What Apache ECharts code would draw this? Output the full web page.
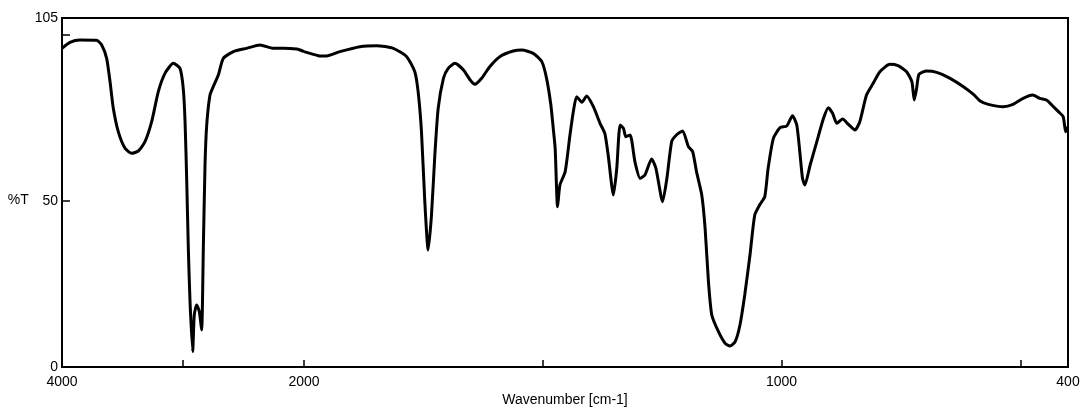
<!DOCTYPE html>
<html>
<head>
<meta charset="utf-8">
<script src="https://cdn.jsdelivr.net/npm/echarts@6/dist/echarts.min.js"></script>
<style>
html,body{margin:0;padding:0;background:#fff;}
#chart{width:1083px;height:412px;}
</style>
</head>
<body>
<div id="chart"></div>
<script>
// Wavenumber (cm-1) and transmittance (%T)
var wavenumber = [4000,3934,3851,3713,3672,3631,3603,3576,3535,3479,3424,3369,3314,3259,3204,3149,3080,3025,2998,2983,2969,2956,2942,2920,2907,2887,2865,2846,2832,2818,2804,2777,2750,2708,2667,2584,2474,2364,2254,2171,2060,2033,2000,
1970,1953,1925,1883,1848,1813,1785,1768,1761,1754,1747,1740,1733,1726,1719,1708,1698,1684,1666,1652,1642,1628,1611,1590,1562,1544,1520,1502,1492,1483,1478,1474,1469,1464,1453,1443,1436,1429,1418,1408,1394,1380,1370,1363,1352,1345,1338,1331,1326,1317,1307,1296,1286,1272,1263,1249,1240,1230,1220,1207,1195,1186,1178,1167,1160,1153,1146,1132,1118,1108,1097,1087,1077,1066,1056,1045,1035,1028,1017,1003,989,977,968,961,956,951,940,926,912,902,893,884,872,860,846,836,822,808,794,773,756,738,727,722,717,712,696,675,647,619,598,584,567,536,515,494,474,459,445,434,420,410,405,401];
var transmittance = [95.9,97.7,98.4,98.3,96.9,92.9,85.9,77.9,70.9,65.9,64.4,65.1,67.9,73.9,82.9,88.4,91.4,89.9,83.9,73.9,55.9,35.9,19.9,4.9,15.9,18.9,16.9,11.4,35.9,60.9,72.9,81.9,84.4,87.9,92.9,94.9,95.9,96.9,95.9,95.9,95.7,95.4,94.9,
93.7,93.6,94.9,96.4,96.7,95.9,93.4,88.9,82.9,70.9,49.9,35.4,45.9,63.9,77.9,86.9,89.9,91.4,89.4,86.4,85.1,86.9,90.4,93.4,95.1,95.4,94.4,91.9,86.9,78.9,71.9,65.9,48.4,54.9,58.9,69.9,76.9,81.4,79.7,81.6,78.4,73.4,70.4,63.9,51.9,59.9,72.9,71.9,69.4,69.9,61.9,56.9,57.9,62.7,59.9,49.9,56.9,67.9,69.9,71.1,66.4,64.9,58.9,51.9,41.9,25.9,15.9,10.9,7.4,6.6,7.9,12.9,21.9,33.9,45.9,49.1,51.4,59.9,68.9,72.1,72.6,75.7,72.9,63.9,56.9,54.9,60.9,67.9,74.9,78.1,76.4,73.4,74.7,73.1,71.4,73.9,81.9,85.4,88.9,91.1,90.7,88.9,85.9,80.4,83.9,88.1,89.1,88.7,86.9,84.4,82.1,80.1,79.1,78.4,79.1,80.9,81.9,80.9,80.4,78.9,76.9,75.4,70.9,72.4];

// Axis tick/label values
var highTicks = [3000, 2000];
var highLabels = [4000, 2000];
var lowTicks = [1500, 1000, 500];
var lowLabels = [1000, 400];
var yTicks = [50, 100];
var yLabels = [0, 50, 105];
var breakPoint = 2000;

var highData = [], lowData = [];
for (var i = 0; i < wavenumber.length; i++) {
  if (wavenumber[i] >= breakPoint) highData.push([wavenumber[i], transmittance[i]]);
  if (wavenumber[i] <= breakPoint) lowData.push([wavenumber[i], transmittance[i]]);
}

var chart = echarts.init(document.getElementById('chart'), null, {renderer: 'canvas'});
var font = 'Liberation Sans, Arial, sans-serif';
var tickStyle = {show: true, inside: true, length: 8, lineStyle: {color: '#000', width: 1.5}};
var labelStyle = {color: '#000', fontSize: 14, fontFamily: font, margin: 7, formatter: function (v) { return String(v); }};

chart.setOption({
  animation: false,
  backgroundColor: '#fff',
  grid: [
    {left: 62, right: 15, top: 18, bottom: 44, show: true, borderColor: '#000', borderWidth: 2, backgroundColor: 'transparent'},
    {left: 62, top: 18, width: 242, height: 350},
    {left: 304, top: 18, width: 764, height: 350}
  ],
  xAxis: [
    {gridIndex: 0, type: 'value', min: 0, max: 1, axisLine: {show: false}, axisTick: {show: false}, axisLabel: {show: false}, splitLine: {show: false},
     name: 'Wavenumber [cm-1]', nameLocation: 'middle', nameGap: 26, nameTextStyle: {color: '#000', fontSize: 14, fontFamily: font}},
    {gridIndex: 1, type: 'value', min: 2000, max: 4000, inverse: true, axisLine: {show: false}, splitLine: {show: false},
     axisTick: Object.assign({customValues: highTicks}, tickStyle),
     axisLabel: Object.assign({customValues: highLabels}, labelStyle)},
    {gridIndex: 2, type: 'value', min: 400, max: 2000, inverse: true, axisLine: {show: false}, splitLine: {show: false},
     axisTick: Object.assign({customValues: lowTicks}, tickStyle),
     axisLabel: Object.assign({customValues: lowLabels}, labelStyle)}
  ],
  yAxis: [
    {gridIndex: 0, type: 'value', min: 0, max: 105, position: 'left', axisLine: {show: false}, splitLine: {show: false},
     axisTick: Object.assign({customValues: yTicks}, tickStyle),
     axisLabel: Object.assign({customValues: yLabels}, labelStyle, {margin: 4}),
     name: '%T', nameLocation: 'middle', nameRotate: 0, nameGap: 30,
     nameTextStyle: {color: '#000', fontSize: 14, fontFamily: font, verticalAlign: 'top', lineHeight: 16}},
    {gridIndex: 1, type: 'value', min: 0, max: 105, show: false},
    {gridIndex: 2, type: 'value', min: 0, max: 105, show: false}
  ],
  series: [
    {type: 'line', xAxisIndex: 1, yAxisIndex: 1, data: highData, showSymbol: false, smooth: 0.2,
     lineStyle: {color: '#000', width: 3}, itemStyle: {color: '#000'}},
    {type: 'line', xAxisIndex: 2, yAxisIndex: 2, data: lowData, showSymbol: false, smooth: 0.2,
     lineStyle: {color: '#000', width: 3}, itemStyle: {color: '#000'}}
  ]
});
</script>
</body>
</html>
